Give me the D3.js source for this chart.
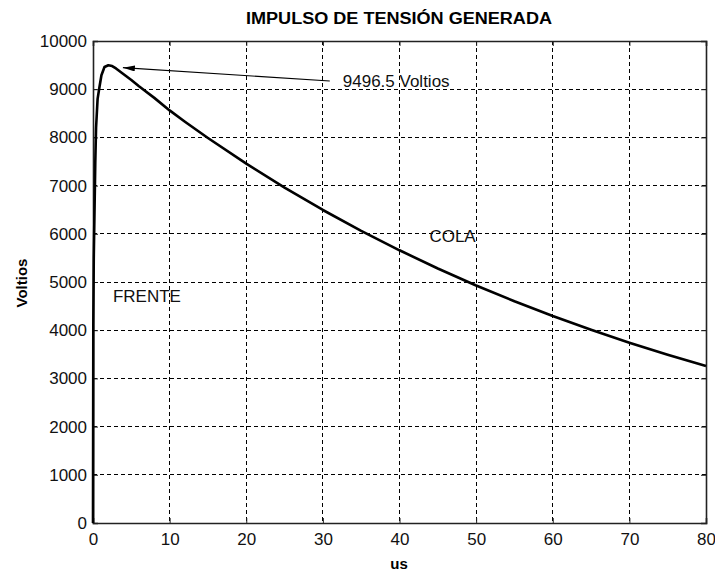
<!DOCTYPE html>
<html>
<head>
<meta charset="utf-8">
<script src="https://cdn.jsdelivr.net/npm/d3@7"></script>
<style>
  html, body { margin: 0; padding: 0; background: #fff; }
  svg { display: block; }
  text { font-family: "Liberation Sans", Arial, sans-serif; }
</style>
</head>
<body>
<svg id="chart" width="715" height="575"></svg>
<script>
// Generated impulse: time in microseconds and voltage in volts
const tiempo = [0, 0.04, 0.1, 0.2, 0.3, 0.4, 0.6, 0.85, 1.1, 1.5, 2.0, 2.5, 3, 4, 5, 6, 8, 10, 12, 15, 20, 25, 30, 35, 40, 45, 50, 55, 60, 65, 70, 75, 80];
const voltios = [0, 4100, 5500, 6500, 7500, 8200, 8800, 9050, 9290, 9460, 9496.5, 9480, 9430, 9310, 9190, 9060, 8820, 8560, 8325, 7987, 7455, 6958, 6494, 6062, 5658, 5281, 4928, 4600, 4294, 4008, 3741, 3491, 3258];

const xTicks = [0, 10, 20, 30, 40, 50, 60, 70, 80];
const yTicks = [0, 1000, 2000, 3000, 4000, 5000, 6000, 7000, 8000, 9000, 10000];

const titulo = "IMPULSO DE TENSIÓN GENERADA";
const etiquetaX = "us";
const etiquetaY = "Voltios";
const pico = { t: 2.0, v: 9496.5 };
const notas = [
  { texto: "FRENTE", t: 2.6, v: 4585 },
  { texto: "COLA", t: 43.9, v: 5830 }
];

const W = 715, H = 575;
const m = { top: 41, right: 9, bottom: 52, left: 93 };
const iw = W - m.left - m.right, ih = H - m.top - m.bottom;

const svg = d3.select("#chart");
const g = svg.append("g").attr("transform", `translate(${m.left},${m.top})`);

const x = d3.scaleLinear().domain([0, 80]).range([0, iw]);
const y = d3.scaleLinear().domain([0, 10000]).range([ih, 0]);

// dashed grid
g.append("g").selectAll("line").data(xTicks.slice(1, -1)).join("line")
  .attr("x1", d => x(d)).attr("x2", d => x(d)).attr("y1", 0).attr("y2", ih)
  .attr("stroke", "#000").attr("stroke-width", 1).attr("stroke-dasharray", "4,3")
  .attr("shape-rendering", "crispEdges");
g.append("g").selectAll("line").data(yTicks.slice(1, -1)).join("line")
  .attr("y1", d => y(d)).attr("y2", d => y(d)).attr("x1", 0).attr("x2", iw)
  .attr("stroke", "#000").attr("stroke-width", 1).attr("stroke-dasharray", "4,3")
  .attr("shape-rendering", "crispEdges");

// axes with inward ticks
const fmt = d3.format("d");
const axB = g.append("g").attr("transform", `translate(0,${ih})`)
  .call(d3.axisBottom(x).tickValues(xTicks).tickFormat(fmt).tickSize(-5).tickPadding(10));
const axL = g.append("g")
  .call(d3.axisLeft(y).tickValues(yTicks).tickFormat(fmt).tickSize(-5).tickPadding(6));
const axT = g.append("g")
  .call(d3.axisTop(x).tickValues(xTicks).tickFormat("").tickSize(-5));
const axR = g.append("g").attr("transform", `translate(${iw},0)`)
  .call(d3.axisRight(y).tickValues(yTicks).tickFormat("").tickSize(-5));

[axB, axL, axT, axR].forEach(a => {
  a.select(".domain").attr("stroke", "#222").attr("stroke-width", 1.6);
  a.selectAll(".tick line").attr("stroke", "#222").attr("stroke-width", 1);
  a.selectAll(".tick text").attr("fill", "#111").style("font-size", "17px")
    .style("font-family", "'Liberation Sans', Arial, sans-serif");
});

// voltage curve
const linea = d3.line().x((d, i) => x(tiempo[i])).y(d => y(d));
g.append("path").datum(voltios)
  .attr("d", linea)
  .attr("fill", "none").attr("stroke", "#000").attr("stroke-width", 2.6)
  .attr("stroke-linejoin", "round");

// peak annotation with arrow
svg.append("defs").append("marker")
  .attr("id", "flecha").attr("viewBox", "0 0 12 6").attr("refX", 12).attr("refY", 3)
  .attr("markerWidth", 12).attr("markerHeight", 6).attr("markerUnits", "userSpaceOnUse")
  .attr("orient", "auto")
  .append("path").attr("d", "M0,0 L12,3 L0,6 Z").attr("fill", "#000");

g.append("line")
  .attr("x1", x(30.9)).attr("y1", y(9170))
  .attr("x2", x(3.9)).attr("y2", y(9446))
  .attr("stroke", "#000").attr("stroke-width", 1.2)
  .attr("marker-end", "url(#flecha)");

g.append("text")
  .attr("x", x(32.6)).attr("y", y(9046))
  .attr("fill", "#111").style("font-size", "17px")
  .text(`${pico.v} Voltios`);

g.selectAll("text.nota").data(notas).join("text")
  .attr("class", "nota")
  .attr("x", d => x(d.t)).attr("y", d => y(d.v))
  .attr("fill", "#111").style("font-size", "17px")
  .text(d => d.texto);

// title and axis labels
svg.append("text").attr("x", 399).attr("y", 24).attr("text-anchor", "middle")
  .style("font-size", "16px").style("font-weight", "bold")
  .attr("textLength", 306).attr("lengthAdjust", "spacingAndGlyphs")
  .text(titulo);
svg.append("text").attr("x", 399).attr("y", 569).attr("text-anchor", "middle")
  .style("font-size", "15px").style("font-weight", "bold")
  .text(etiquetaX);
svg.append("text").attr("transform", `translate(27,283) rotate(-90)`).attr("text-anchor", "middle")
  .style("font-size", "15px").style("font-weight", "bold")
  .text(etiquetaY);
</script>
</body>
</html>
